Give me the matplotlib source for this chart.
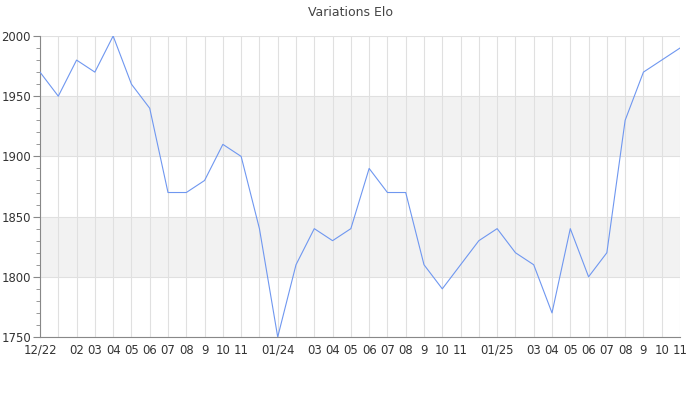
import matplotlib
matplotlib.use("Agg")
import matplotlib.pyplot as plt
from matplotlib.ticker import MultipleLocator

months = ["12/22", "", "02", "03", "04", "05", "06", "07", "08", "9", "10", "11",
          "", "01/24", "", "03", "04", "05", "06", "07", "08", "9", "10", "11",
          "", "01/25", "", "03", "04", "05", "06", "07", "08", "9", "10", "11"]
elo = [1970, 1950, 1980, 1970, 2000, 1960, 1940, 1870, 1870, 1880, 1910, 1900,
       1840, 1750, 1810, 1840, 1830, 1840, 1890, 1870, 1870, 1810, 1790, 1810,
       1830, 1840, 1820, 1810, 1770, 1840, 1800, 1820, 1930, 1970, 1980, 1990]
title = "Variations Elo"
bands = [(1800, 1850), (1900, 1950)]

plt.rcParams['font.family'] = ['DejaVu Sans']
fig = plt.figure(figsize=(7, 4), dpi=100)
ax = fig.add_axes([40/700, 1-337/400, 640/700, 301/400])

x = list(range(len(elo)))
for lo, hi in bands:
    ax.axhspan(lo, hi, color="#f2f2f2", zorder=0, lw=0)
for xi in x:
    ax.axvline(xi, color="#e0e0e0", lw=0.8, zorder=1)
for yv in range(1750, 2001, 50):
    ax.axhline(yv, color="#e0e0e0", lw=0.8, zorder=1)

ax.plot(x, elo, color="#6f97f0", lw=0.8, zorder=3)

ax.set_xlim(0, len(elo) - 1)
ax.set_ylim(1750, 2000)
ax.set_xticks(x)
ax.set_xticklabels(months, fontsize=8.4, color="#333333")
ax.tick_params(axis="x", length=0, pad=5)
ax.yaxis.set_major_locator(MultipleLocator(50))
ax.yaxis.set_minor_locator(MultipleLocator(10))
ax.tick_params(axis="y", which="major", length=5, color="#888888", labelsize=8.4, labelcolor="#333333", pad=1.5)
ax.tick_params(axis="y", which="minor", length=3, color="#888888")

for s in ["top", "right"]:
    ax.spines[s].set_visible(False)
ax.spines["left"].set_color("#888888")
ax.spines["bottom"].set_color("#888888")
ax.spines["left"].set_linewidth(0.8)
ax.spines["bottom"].set_linewidth(0.8)

fig.text(350/700, 1-12/400, title, ha="center", va="center", fontsize=9, color="#444444")
fig.savefig("out.png", dpi=100, facecolor="white")
